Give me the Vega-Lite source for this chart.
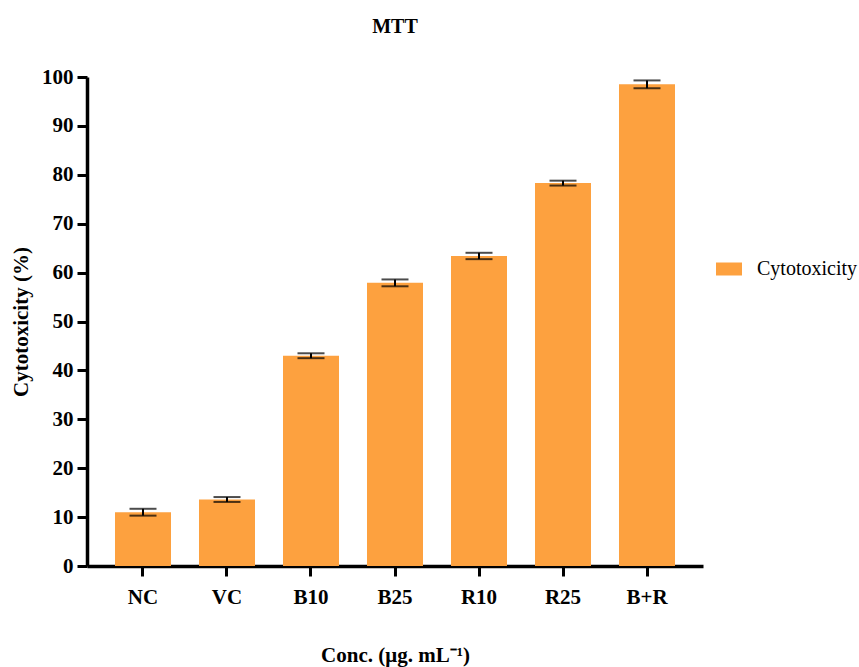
{
  "$schema": "https://vega.github.io/schema/vega-lite/v6.json",
  "autosize": {"type": "none"},
  "padding": {"left": 87, "top": 77, "right": 156, "bottom": 101},
  "width": 616,
  "height": 489,
  "title": {"text": "MTT", "fontSize": 20, "fontWeight": "bold", "font": "Liberation Serif", "color": "#000000", "offset": 29},
  "data": {
    "values": [
      {"Conc": "NC", "Mean": 11.0, "SD": 0.7},
      {"Conc": "VC", "Mean": 13.6, "SD": 0.5},
      {"Conc": "B10", "Mean": 43.0, "SD": 0.5},
      {"Conc": "B25", "Mean": 57.9, "SD": 0.7},
      {"Conc": "R10", "Mean": 63.4, "SD": 0.65},
      {"Conc": "R25", "Mean": 78.3, "SD": 0.5},
      {"Conc": "B+R", "Mean": 98.5, "SD": 0.8}
    ]
  },
  "encoding": {
    "x": {
      "field": "Conc", "type": "nominal", "sort": null,
      "scale": {"paddingInner": 0.3333, "paddingOuter": 0.3333},
      "axis": {
        "title": "Conc. (μg. mL⁻¹)", "labelAngle": 0, "labelPadding": 10, "tickSize": 10, "titlePadding": 37
      }
    }
  },
  "layer": [
    {
      "mark": {"type": "bar", "color": "#FDA13F"},
      "encoding": {
        "y": {
          "field": "Mean", "type": "quantitative", "title": "Cytotoxicity (%)",
          "scale": {"domain": [0, 100], "nice": false},
          "axis": {"title": "Cytotoxicity (%)", "values": [0, 10, 20, 30, 40, 50, 60, 70, 80, 90, 100], "tickSize": 10, "labelPadding": 4, "titlePadding": 10, "grid": false}
        },
        "color": {
          "datum": "Cytotoxicity",
          "scale": {"range": ["#FDA13F"]},
          "legend": {
            "title": null, "orient": "none", "legendX": 629, "legendY": 179,
            "symbolType": "M-1,-0.5H1V0.5H-1Z", "symbolSize": 676, "symbolStrokeWidth": 0,
            "labelFont": "Liberation Serif", "labelFontSize": 20, "labelFontWeight": "normal", "labelColor": "#000000",
            "labelOffset": 15, "padding": 0
          }
        }
      }
    },
    {
      "mark": {"type": "errorbar", "color": "#000000", "thickness": 2, "ticks": {"size": 27, "thickness": 2, "color": "#000000"}},
      "encoding": {
        "y": {"field": "Mean", "type": "quantitative", "title": "Cytotoxicity (%)"},
        "yError": {"field": "SD"}
      }
    }
  ],
  "config": {
    "view": {"stroke": null},
    "font": "Liberation Serif",
    "axis": {
      "domainColor": "#000000", "domainWidth": 3.5, "tickColor": "#000000", "tickWidth": 3,
      "labelFont": "Liberation Serif", "labelFontSize": 21, "labelFontWeight": "bold", "labelColor": "#000000",
      "titleFont": "Liberation Serif", "titleFontSize": 21, "titleFontWeight": "bold", "titleColor": "#000000"
    }
  }
}
